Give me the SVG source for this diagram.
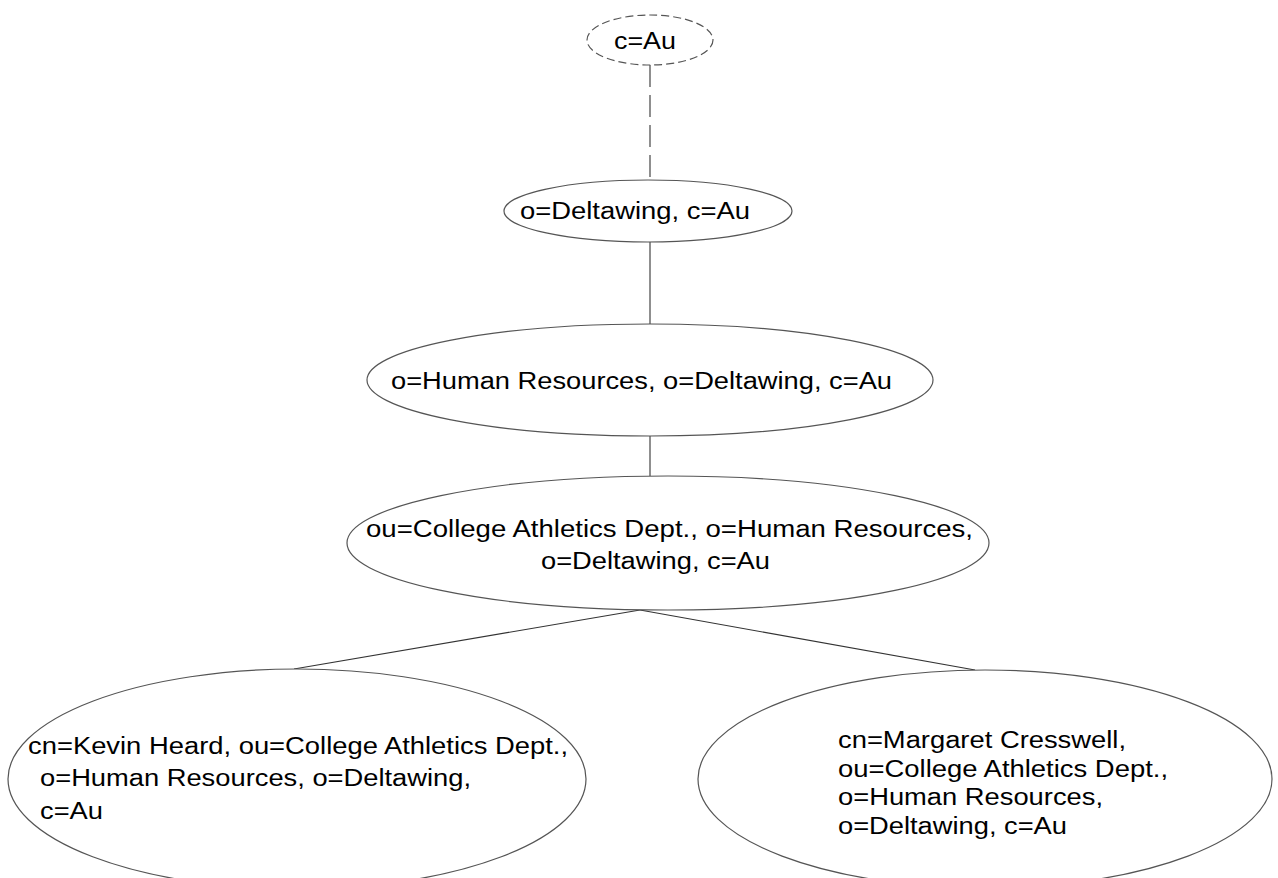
<svg xmlns="http://www.w3.org/2000/svg" width="1278" height="878" viewBox="0 0 1278 878">
<style>
.n{fill:#fff;stroke:#555;stroke-width:1.2}
.d{stroke-dasharray:8 4}
.t{font-family:"Liberation Sans",Arial,sans-serif;font-size:23px;fill:#000}
.c{stroke:#333;stroke-width:1.1;fill:none}
</style>
<rect width="1278" height="878" fill="#fff"/>
<g id="connectors">
<line class="c" x1="650" y1="65" x2="650" y2="180" stroke-dasharray="22 8"/>
<line class="c" x1="650" y1="242" x2="650" y2="324"/>
<line class="c" x1="650" y1="436" x2="650" y2="476"/>
<line class="c" x1="640" y1="610" x2="294" y2="669"/>
<line class="c" x1="640" y1="610" x2="975" y2="670"/>
</g>
<g id="n1">
<ellipse class="n d" cx="650" cy="40" rx="63" ry="25"/>
<text class="t" x="614" y="49" textLength="62" lengthAdjust="spacingAndGlyphs">c=Au</text>
</g>
<g id="n2">
<ellipse class="n" cx="648" cy="211" rx="144" ry="31"/>
<text class="t" x="520" y="219" textLength="230" lengthAdjust="spacingAndGlyphs">o=Deltawing, c=Au</text>
</g>
<g id="n3">
<ellipse class="n" cx="650" cy="380" rx="283" ry="56"/>
<text class="t" x="391" y="389" textLength="501" lengthAdjust="spacingAndGlyphs">o=Human Resources, o=Deltawing, c=Au</text>
</g>
<g id="n4">
<ellipse class="n" cx="668" cy="543" rx="321" ry="67"/>
<text class="t" x="366" y="537" textLength="607" lengthAdjust="spacingAndGlyphs">ou=College Athletics Dept., o=Human Resources,</text>
<text class="t" x="541" y="569" textLength="229" lengthAdjust="spacingAndGlyphs">o=Deltawing, c=Au</text>
</g>
<g id="n5">
<ellipse class="n" cx="297" cy="779" rx="289" ry="110"/>
<text class="t" x="28" y="754" textLength="540" lengthAdjust="spacingAndGlyphs">cn=Kevin Heard, ou=College Athletics Dept.,</text>
<text class="t" x="40" y="786" textLength="431" lengthAdjust="spacingAndGlyphs">o=Human Resources, o=Deltawing,</text>
<text class="t" x="40" y="819" textLength="63" lengthAdjust="spacingAndGlyphs">c=Au</text>
</g>
<g id="n6">
<ellipse class="n" cx="985" cy="779" rx="287" ry="109"/>
<text class="t" x="838" y="748" textLength="288" lengthAdjust="spacingAndGlyphs">cn=Margaret Cresswell,</text>
<text class="t" x="838" y="777" textLength="330" lengthAdjust="spacingAndGlyphs">ou=College Athletics Dept.,</text>
<text class="t" x="838" y="805" textLength="265" lengthAdjust="spacingAndGlyphs">o=Human Resources,</text>
<text class="t" x="838" y="834" textLength="229" lengthAdjust="spacingAndGlyphs">o=Deltawing, c=Au</text>
</g>
</svg>
